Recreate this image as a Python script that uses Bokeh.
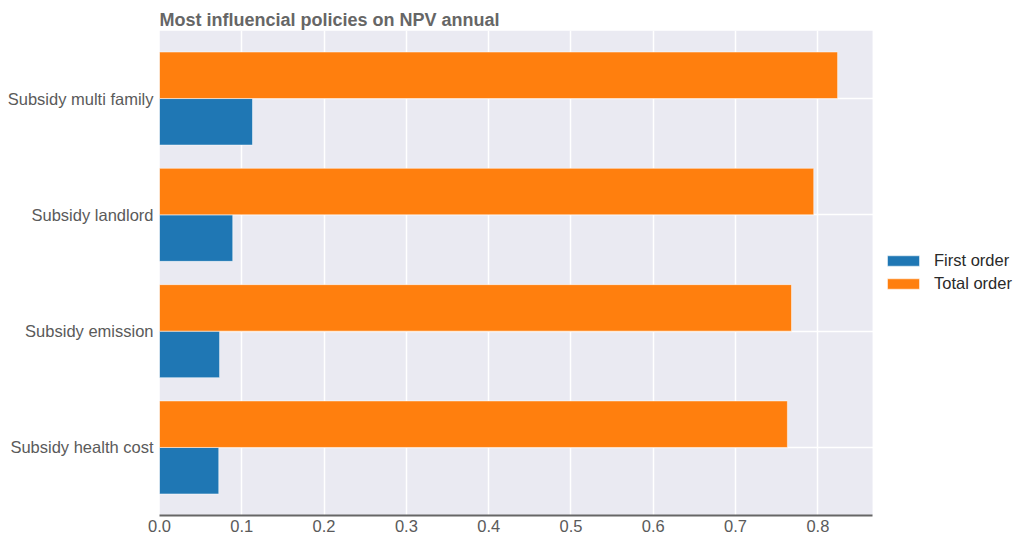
from bokeh.plotting import figure
from bokeh.models import (Range1d, FixedTicker, Legend, LegendItem, ColumnDataSource,
                          PrintfTickFormatter, BoxAnnotation)
from bokeh.embed import file_html
from bokeh.resources import INLINE
from bokeh.transform import dodge

categories = ["Subsidy health cost", "Subsidy emission", "Subsidy landlord", "Subsidy multi family"]
first_order = [0.072, 0.073, 0.089, 0.113]
total_order = [0.763, 0.768, 0.795, 0.824]
x_ticks = [0.0, 0.1, 0.2, 0.3, 0.4, 0.5, 0.6, 0.7, 0.8]
title_text = "Most influencial policies on NPV annual"

pos = list(range(len(categories)))
src = ColumnDataSource(dict(y=pos, first=first_order, total=total_order))

FONT = "Liberation Sans"
X_MAX = 0.8665          # visible data extent of the x axis
X_CANVAS = 1.0414       # frame extends to the right edge (room for legend)

p = figure(output_backend="svg", toolbar_location=None,
           width=1016, height=540,
           min_border_left=159, min_border_top=30, min_border_bottom=25, min_border_right=0,
           x_range=Range1d(0, X_CANVAS), y_range=Range1d(-0.585, 3.585))

p.background_fill_color = "white"
p.border_fill_color = "white"
p.outline_line_color = None

# plotting-area background only over the data extent
bg = BoxAnnotation(left=0, right=X_MAX, fill_color="#EAEAF2", fill_alpha=1,
                   line_color=None, level="image")
p.add_layout(bg)

r1 = p.hbar(y=dodge("y", -0.2), height=0.4, left=0, right="first", source=src,
            fill_color="#1f77b4", line_color="white", line_width=0.5)
r2 = p.hbar(y=dodge("y", 0.2), height=0.4, left=0, right="total", source=src,
            fill_color="#ff7f0e", line_color="white", line_width=0.5)

# axes
p.xaxis.ticker = FixedTicker(ticks=x_ticks)
p.xaxis.formatter = PrintfTickFormatter(format="%.1f")
p.xaxis.bounds = (0, X_MAX)
p.xaxis.axis_line_color = "#666666"
p.xaxis.axis_line_width = 2
p.xaxis.major_tick_line_color = None
p.xaxis.minor_tick_line_color = None
p.xaxis.major_tick_out = 0
p.xaxis.major_tick_in = 0
p.xaxis.major_label_standoff = 4
p.xaxis.major_label_text_font = FONT
p.xaxis.major_label_text_font_size = "16.5px"
p.xaxis.major_label_text_color = "#5a5a5a"

p.yaxis.ticker = FixedTicker(ticks=pos)
p.yaxis.major_label_overrides = {i: c for i, c in zip(pos, categories)}
p.yaxis.axis_line_color = None
p.yaxis.major_tick_line_color = None
p.yaxis.minor_tick_line_color = None
p.yaxis.major_tick_out = 0
p.yaxis.major_tick_in = 0
p.yaxis.major_label_standoff = 6
p.yaxis.major_label_text_font = FONT
p.yaxis.major_label_text_font_size = "16.5px"
p.yaxis.major_label_text_color = "#5a5a5a"

p.xgrid.grid_line_color = "white"
p.xgrid.grid_line_width = 1.5
p.ygrid.grid_line_color = "white"
p.ygrid.grid_line_width = 1.5

# title
p.title.text = title_text
p.title.text_font = FONT
p.title.text_font_style = "bold"
p.title.text_font_size = "18px"
p.title.text_color = "#666666"
p.title.align = "left"
p.title.standoff = 2

legend = Legend(items=[LegendItem(label="First order", renderers=[r1]),
                       LegendItem(label="Total order", renderers=[r2])],
                location=(724, 222), border_line_color=None, background_fill_alpha=0,
                glyph_width=40, glyph_height=13, label_height=20, spacing=3,
                label_standoff=11, padding=10, margin=0,
                label_text_font=FONT, label_text_font_size="16.5px", label_text_color="#2a2a2a")
p.add_layout(legend, "center")

open("out.html", "w").write(file_html(p, INLINE))
